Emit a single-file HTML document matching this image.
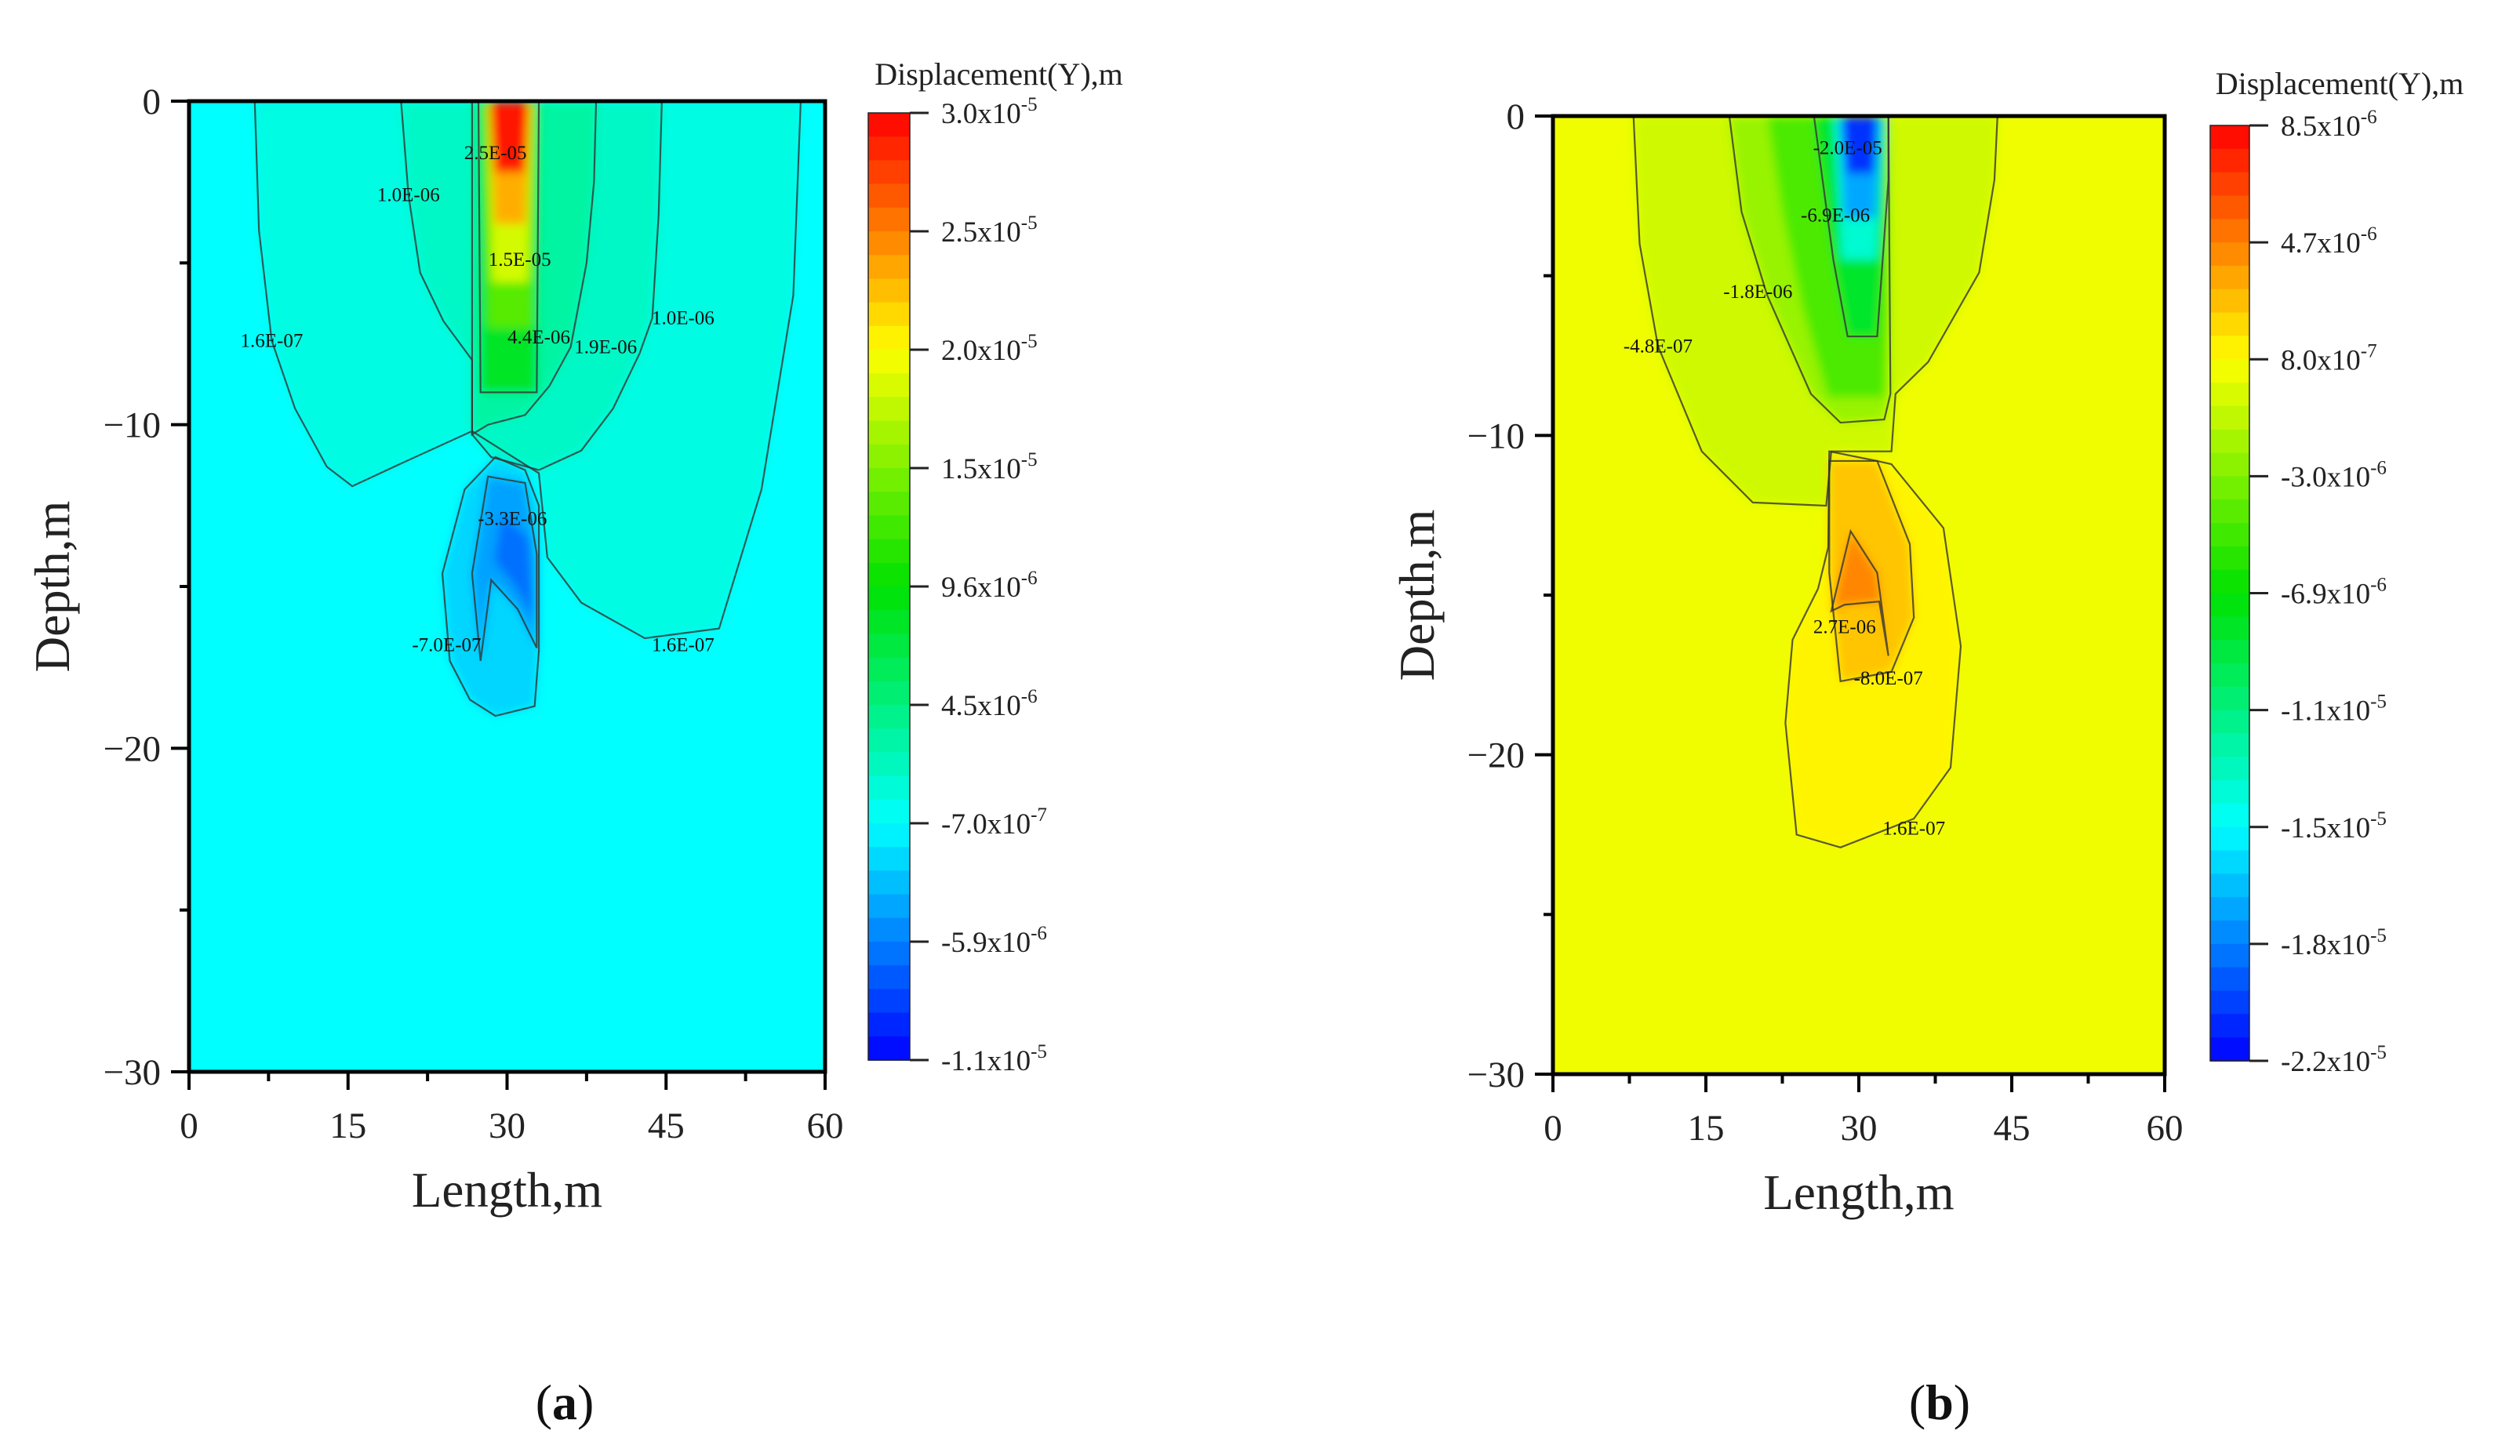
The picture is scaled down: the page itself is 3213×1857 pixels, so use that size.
<!DOCTYPE html>
<html><head><meta charset="utf-8"><style>
html,body{margin:0;padding:0;background:#fff;}
svg{display:block;font-family:"Liberation Serif",serif;}
</style></head><body>
<svg id="fig" width="3213" height="1857" viewBox="0 0 3213 1857" xmlns="http://www.w3.org/2000/svg">
<defs>
<filter id="blur" x="-5%" y="-5%" width="110%" height="110%"><feGaussianBlur stdDeviation="6"/></filter>
<clipPath id="clipA"><rect x="241" y="129" width="811" height="1238"/></clipPath>
<clipPath id="clipB"><rect x="1980" y="148" width="780" height="1222"/></clipPath>
</defs>
</svg>
<script>
// ---------- data ----------
const xTicks = [0, 15, 30, 45, 60];
const yTicks = [0, -10, -20, -30];
const cbLabelsA = [["3.0","-5"],["2.5","-5"],["2.0","-5"],["1.5","-5"],["9.6","-6"],["4.5","-6"],["-7.0","-7"],["-5.9","-6"],["-1.1","-5"]];
const cbLabelsB = [["8.5","-6"],["4.7","-6"],["8.0","-7"],["-3.0","-6"],["-6.9","-6"],["-1.1","-5"],["-1.5","-5"],["-1.8","-5"],["-2.2","-5"]];
const rangeA = [-1.1e-5, 3.0e-5];
const rangeB = [-2.2e-5, 8.5e-6];
// filled regions: value, polygon in data units [length m, depth m (positive down)]
const bgValueA = -7.5e-7;
const regionValuesA = [4e-7, 1.5e-6, 3e-6, 8e-6, 1.3e-5, 1.8e-5, 2.3e-5, 2.9e-5, -2.4e-6, -4.5e-6, -6.5e-6];
const regionPolysA = [
 [[6.2,0],[6.6,4],[7.8,7.4],[10,9.5],[13,11.3],[15.4,11.9],[20,11.2],[26.7,10.2],[33,11.5],[33.8,14.1],[37,15.5],[43,16.6],[50,16.3],[54,12],[57,6],[57.7,0]],
 [[20,0],[20.7,2.9],[21.8,5.3],[24,6.8],[26.7,8],[26.7,10.3],[28.5,11],[33,11.4],[37,10.8],[40,9.5],[42.5,7.8],[43.7,6.7],[44.3,3.5],[44.6,0]],
 [[26.7,0],[26.7,10.3],[28.2,10],[31.7,9.7],[34,8.8],[36,7.6],[37.5,5],[38.2,2.5],[38.4,0]],
 [[27.3,0],[27.5,9],[32.8,9],[33,0]],
 [[27.8,0],[28.2,7],[32.4,7],[32.7,0]],
 [[28.1,0],[28.6,5.6],[32,5.6],[32.4,0]],
 [[28.3,0],[28.8,3.8],[31.8,3.8],[32.2,0]],
 [[28.4,0],[28.8,2.2],[31.7,2.2],[32,0]],
 [[28.9,11],[31.7,11.4],[33,12.5],[33,17],[32.6,18.7],[28.9,19],[26.5,18.5],[24.6,17.3],[23.9,14.6],[26,12]],
 [[28.2,11.6],[31.7,11.8],[32.8,14],[32.8,16.9],[31,15.7],[28.5,14.8],[27.5,17.3],[26.7,14.6]],
 [[29.5,12.8],[32,13.5],[32.5,16],[30.8,15],[28.8,14.2]]
];
const contourPolysA = [0,1,2,3,8,9];
const labelsA = [["2.5E-05",28.9,1.6],["1.0E-06",20.7,2.9],["1.5E-05",31.2,4.9],["1.6E-07",7.8,7.4],["4.4E-06",33.0,7.3],["1.9E-06",39.3,7.6],["1.0E-06",46.6,6.7],["-3.3E-06",30.5,12.9],["-7.0E-07",24.3,16.8],["1.6E-07",46.6,16.8]];

const bgValueB = 4e-7;
const regionValuesB = [-6e-7, -2.2e-6, -4.5e-6, -8e-6, -1.3e-5, -1.7e-5, -2.05e-5, 1.2e-6, 2.6e-6, 4.5e-6];
const regionPolysB = [
 [[7.9,0],[8.5,4],[10.3,7.2],[14.6,10.5],[19.6,12.1],[26.8,12.2],[27.3,10.5],[33.2,10.5],[33.6,8.7],[36.8,7.7],[41.8,4.9],[43.3,2],[43.6,0]],
 [[17.3,0],[18.5,3],[21,5.6],[25.3,8.7],[28.2,9.6],[32.5,9.5],[33.1,8.7],[32.9,0]],
 [[21,0],[22.5,3],[24.5,6],[27,8.8],[32.5,8.8],[32.9,6],[32.9,0]],
 [[25.6,0],[27.5,4.5],[28.9,6.9],[31.8,6.9],[32.9,2],[32.9,0]],
 [[27.5,0],[28.3,4.5],[31.8,4.5],[32.5,0]],
 [[28.1,0],[28.5,3.2],[31.7,3.2],[32.2,0]],
 [[28.4,0],[28.8,1.8],[31.5,1.8],[31.8,0]],
 [[27.1,10.5],[31.8,10.8],[33.2,10.9],[38.3,12.9],[40,16.6],[39,20.4],[35.4,22],[28.2,22.9],[23.9,22.5],[22.8,19],[23.5,16.4],[26,14.8],[27,13.5]],
 [[27.1,10.8],[31.8,10.8],[35,13.4],[35.4,15.7],[33.2,17.4],[28.2,17.7],[27.1,14.3]],
 [[29.2,13],[31.8,14.3],[32.9,16.9],[32,15.2],[28.6,15.3],[27.3,15.5]]
];
const contourPolysB = [0,1,3,7,8,9];
const labelsB = [["-2.0E-05",28.9,1.0],["-6.9E-06",27.7,3.1],["-1.8E-06",20.1,5.5],["-4.8E-07",10.3,7.2],["2.7E-06",28.6,16.0],["-8.0E-07",32.9,17.6],["1.6E-07",35.4,22.3]];

// ---------- helpers ----------
const NS = "http://www.w3.org/2000/svg";
const svg = document.getElementById('fig');
function mk(tag, attrs, parent){const e=document.createElementNS(NS,tag);for(const k in attrs)e.setAttribute(k,attrs[k]);(parent||svg).appendChild(e);return e;}
function jet(t){
  t=Math.max(0,Math.min(1,t));
  const stops=[[0,[0,0,255]],[0.25,[0,255,255]],[0.5,[0,225,0]],[0.75,[255,255,0]],[1,[255,0,0]]];
  for(let i=0;i<stops.length-1;i++){const a=stops[i],b=stops[i+1];if(t<=b[0]){const f=(t-a[0])/(b[0]-a[0]);const c=a[1].map((v,j)=>Math.round(v+(b[1][j]-v)*f));return `rgb(${c[0]},${c[1]},${c[2]})`;}}
  return 'rgb(255,0,0)';
}

function panel(cfg){
  const {L,R,T,B,cbX,cbW,cbT,cbB,range,bgValue,vals,polys,contours,labels,cbLabels,clip,key,titleY,plX} = cfg;
  const xs = v => L + (v-0)/(60-0)*(R-L);
  const ys = d => T + (d-0)/(30-0)*(B-T);
  const tv = v => (v-range[0])/(range[1]-range[0]);
  const g = mk('g',{});  
  const plot = mk('g',{'clip-path':`url(#${clip})`},g);
   
  const bg = mk('rect',{x:L,y:T,width:R-L,height:B-T,fill:jet(tv(bgValue))},plot);
   
  const fills = mk('g',{filter:'url(#blur)'},plot);
  polys.forEach((p,i)=>{
    const pts=p.map(q=>xs(q[0])+','+ys(q[1])).join(' ');
    const e=mk('polygon',{points:pts,fill:jet(tv(vals[i]))},fills);
     
  });
  contours.forEach(i=>{
    const pts=polys[i].map(q=>xs(q[0])+','+ys(q[1])).join(' ');
    const e=mk('polygon',{points:pts,fill:'none',stroke:'#333',"stroke-width":2.2,"stroke-opacity":0.8},plot);
     
  });
  labels.forEach(l=>{
    const t=mk('text',{x:xs(l[1]),y:ys(l[2])+8,"font-size":25,"text-anchor":"middle",fill:'#111'},plot);
    t.textContent=l[0];
     
  });
  const ax = mk('g',{stroke:'#000',"stroke-width":5,fill:'none'},g);
   
  mk('rect',{x:L,y:T,width:R-L,height:B-T},ax);
  for(let v=0; v<=60; v+=7.5){
    const major = xTicks.includes(v);
    const e=mk('line',{x1:xs(v),x2:xs(v),y1:B,y2:B+(major?23:12),"stroke-width":4},ax);
     
  }
  for(let d=0; d<=30; d+=5){
    const major = yTicks.includes(-d);
    const e=mk('line',{x1:L,x2:L-(major?23:12),y1:ys(d),y2:ys(d),"stroke-width":4},ax);
     
  }
  xTicks.forEach(v=>{
    const t=mk('text',{x:xs(v),y:B+84,"font-size":47,"text-anchor":"middle",fill:'#222'},g);
    t.textContent=v;
     
  });
  yTicks.forEach(v=>{
    const t=mk('text',{x:L-36,y:ys(-v)+16,"font-size":47,"text-anchor":"end",fill:'#222'},g);
    t.textContent=v===0?'0':'\u2212'+Math.abs(v);
     
  });
  const xt=mk('text',{x:(L+R)/2,y:B+172,"font-size":63,"text-anchor":"middle",fill:'#222'},g);
  xt.textContent='Length,m';
   
  const yc=(T+B)/2;
  const yt=mk('text',{x:cfg.yTitleX,y:yc,"font-size":63,"text-anchor":"middle",fill:'#222',transform:`rotate(-90 ${cfg.yTitleX} ${yc})`},g);
  yt.textContent='Depth,m';
   
  const cb=mk('g',{},g);
   
  const N=40, h=(cbB-cbT)/N;
  for(let i=0;i<N;i++){
    const e=mk('rect',{x:cbX,y:cbT+i*h,width:cbW,height:h+0.8,fill:jet(1-(i+0.5)/N)},cb);
     
  }
  mk('rect',{x:cbX,y:cbT,width:cbW,height:cbB-cbT,fill:'none',stroke:'#222',"stroke-width":1.5},cb);
  const n=cbLabels.length;
  cbLabels.forEach((lab,i)=>{
    const y=cbT+i*(cbB-cbT)/(n-1);
    const e=mk('line',{x1:cbX+cbW,x2:cbX+cbW+24,y1:y,y2:y,stroke:'#222',"stroke-width":3},cb);
     
    const t=mk('text',{x:cbX+cbW+40,y:y+13,"font-size":37,fill:'#222'},cb);
    t.textContent=lab[0]+'x10';
    const s=mk('tspan',{dy:-16,"font-size":25},t); s.textContent=lab[1];
     
  });
  const ct=mk('text',{x:cbX+cbW/2+140,y:titleY,"font-size":40,"text-anchor":"middle",fill:'#222'},g);
  ct.textContent='Displacement(Y),m';
   
  const pl=mk('text',{x:plX,y:1810,"font-size":64,"text-anchor":"middle",fill:'#111'},g);
  pl.innerHTML='(<tspan font-weight="bold">'+key+'</tspan>)';
   
}

panel({L:241,R:1052,T:129,B:1367,cbX:1107,cbW:53,cbT:144,cbB:1352,range:rangeA,bgValue:bgValueA,
  vals:regionValuesA,polys:regionPolysA,contours:contourPolysA,labels:labelsA,cbLabels:cbLabelsA,
  clip:'clipA',key:'a',titleY:108,plX:720,yTitleX:88});
panel({L:1980,R:2760,T:148,B:1370,cbX:2818,cbW:50,cbT:160,cbB:1353,range:rangeB,bgValue:bgValueB,
  vals:regionValuesB,polys:regionPolysB,contours:contourPolysB,labels:labelsB,cbLabels:cbLabelsB,
  clip:'clipB',key:'b',titleY:120,plX:2473,yTitleX:1828});
</script>
</body></html>
